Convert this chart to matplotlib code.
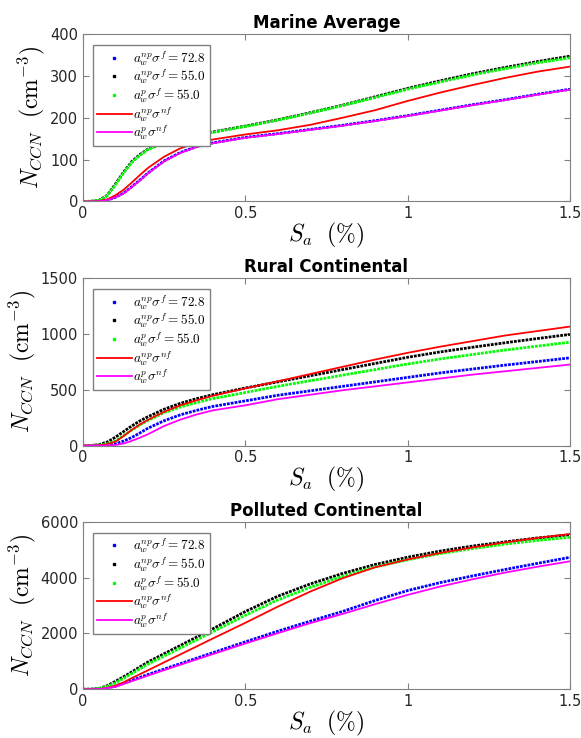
import matplotlib
matplotlib.use('Agg')
import matplotlib.pyplot as plt
from matplotlib.lines import Line2D

plt.rcParams['mathtext.fontset'] = 'cm'

# supersaturation (%)
s = [0, 0.025, 0.05, 0.075, 0.1, 0.125, 0.15, 0.175, 0.2, 0.25, 0.3, 0.35, 0.4,
     0.5, 0.6, 0.7, 0.8, 0.9, 1.0, 1.1, 1.2, 1.3, 1.4, 1.5]

# Marine Average
ma_blue = [0, 0, 0.5, 3, 10, 20, 35, 51, 68, 97, 117, 131, 140, 153, 162, 172, 182, 193, 205, 218, 231, 243, 256, 268]
ma_black = [0, 0.5, 3, 15, 42, 70, 95, 112, 125, 141, 152, 160, 166, 180, 195, 212, 230, 250, 270, 288, 305, 320, 334, 347]
ma_green = [0, 0.5, 3, 14, 40, 68, 93, 110, 124, 140, 151, 159, 165, 179, 194, 211, 229, 248, 268, 285, 302, 317, 331, 343]
ma_red = [0, 0, 1, 5, 15, 28, 45, 63, 80, 107, 127, 140, 148, 160, 170, 183, 200, 218, 240, 260, 278, 295, 310, 322]
ma_mag = [0, 0, 0.5, 3, 10, 19, 34, 50, 67, 96, 116, 130, 139, 152, 161, 171, 181, 192, 204, 217, 230, 242, 255, 267]

# Rural Continental
rc_blue = [0, 0, 0, 4, 15, 40, 72, 112, 155, 222, 275, 315, 350, 400, 450, 490, 530, 570, 610, 650, 685, 720, 752, 785]
rc_black = [0, 1, 8, 32, 75, 125, 175, 220, 258, 325, 378, 420, 455, 515, 570, 625, 680, 735, 790, 838, 880, 920, 958, 995]
rc_green = [0, 0.5, 3, 15, 40, 88, 138, 185, 225, 295, 345, 385, 420, 475, 530, 580, 630, 680, 730, 775, 815, 855, 890, 925]
rc_red = [0, 0, 2, 12, 35, 85, 140, 188, 230, 302, 360, 405, 445, 512, 575, 640, 705, 770, 830, 885, 935, 985, 1025, 1065]
rc_mag = [0, 0, 0, 1, 5, 18, 42, 70, 101, 175, 232, 278, 315, 360, 415, 455, 495, 530, 565, 600, 635, 665, 695, 725]

# Polluted Continental
pc_blue = [0, 1, 15, 55, 110, 210, 320, 425, 530, 725, 920, 1115, 1310, 1700, 2080, 2440, 2790, 3180, 3536, 3820, 4060, 4290, 4510, 4726]
pc_black = [0, 3, 30, 130, 285, 450, 620, 800, 976, 1275, 1571, 1870, 2166, 2785, 3333, 3773, 4150, 4470, 4730, 4950, 5130, 5280, 5420, 5535]
pc_green = [0, 2, 25, 105, 230, 390, 560, 730, 900, 1190, 1480, 1770, 2060, 2650, 3200, 3650, 4050, 4380, 4640, 4860, 5040, 5200, 5330, 5445]
pc_red = [0, 0, 10, 50, 130, 250, 400, 540, 680, 965, 1250, 1535, 1820, 2380, 2960, 3500, 3980, 4370, 4650, 4880, 5080, 5260, 5420, 5560]
pc_mag = [0, 0, 12, 45, 90, 190, 290, 390, 490, 685, 880, 1070, 1260, 1640, 2010, 2370, 2700, 3050, 3381, 3680, 3940, 4180, 4390, 4583]

titles = ['Marine Average', 'Rural Continental', 'Polluted Continental']
ylims = [400, 1500, 6000]
yticks = [[0, 100, 200, 300, 400], [0, 500, 1000, 1500], [0, 2000, 4000, 6000]]
data = [[ma_blue, ma_black, ma_green, ma_red, ma_mag],
        [rc_blue, rc_black, rc_green, rc_red, rc_mag],
        [pc_blue, pc_black, pc_green, pc_red, pc_mag]]

labels = [r'$a_w^{np}\sigma^f = 72.8$', r'$a_w^{np}\sigma^f = 55.0$',
          r'$a_w^{p}\sigma^f = 55.0$', r'$a_w^{np}\sigma^{nf}$', r'$a_w^{p}\sigma^{nf}$']

fig = plt.figure(figsize=(5.81, 7.38), dpi=100)
bottoms = [0.727, 0.3963, 0.066]
gray = '#808080'

for i in range(3):
    ax = fig.add_axes([0.1429, bottoms[i], 0.838, 0.227])
    blue, black, green, red, mag = data[i]
    dot = (0, (1, 0.4))
    ax.plot(s, blue, color='#0000ff', lw=2.0, linestyle=dot)
    ax.plot(s, black, color='black', lw=2.0, linestyle=dot)
    ax.plot(s, green, color='#00ff00', lw=2.0, linestyle=dot)
    ax.plot(s, red, color='#ff0000', lw=1.3)
    ax.plot(s, mag, color='#ff00ff', lw=1.3)

    ax.set_xlim(0, 1.5)
    ax.set_ylim(0, ylims[i])
    ax.set_xticks([0, 0.5, 1, 1.5])
    ax.set_xticklabels(['0', '0.5', '1', '1.5'])
    ax.set_yticks(yticks[i])
    ax.tick_params(direction='in', top=True, right=True, length=4,
                   colors=gray, labelcolor='#262626', labelsize=10.5)
    for sp in ax.spines.values():
        sp.set_color(gray)
    ax.set_title(titles[i], fontsize=12, fontweight='bold', pad=4)
    ax.set_ylabel(r'$N_{CCN}\ \ (\mathrm{cm}^{-3})$', fontsize=17, labelpad=2)
    ax.set_xlabel(r'$S_a\ \ (\%)$', fontsize=17, labelpad=0)

    handles = [Line2D([], [], color='#0000ff', marker='s', markersize=1.8, lw=0),
               Line2D([], [], color='black', marker='s', markersize=1.8, lw=0),
               Line2D([], [], color='#00ff00', marker='s', markersize=1.8, lw=0),
               Line2D([], [], color='#ff0000', lw=1.3),
               Line2D([], [], color='#ff00ff', lw=1.3)]
    leg = ax.legend(handles, labels, loc='upper left', bbox_to_anchor=(0.021, 0.935),
                    fontsize=9.5, numpoints=1, fancybox=False, framealpha=1,
                    edgecolor=gray, borderpad=0.3, labelspacing=0.0,
                    handlelength=2.6, handletextpad=0.15, borderaxespad=0)
    leg.get_frame().set_linewidth(1.0)

plt.savefig('out.png', dpi=100)
